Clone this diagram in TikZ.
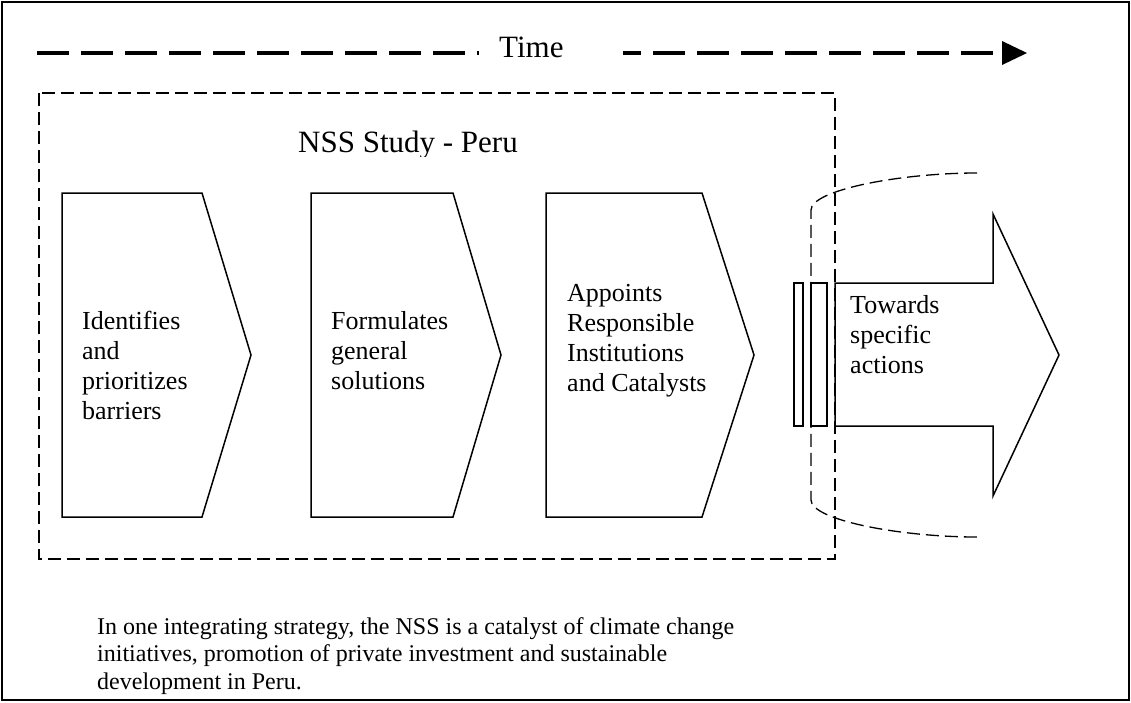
\documentclass[tikz,border=0pt]{standalone}
\usepackage{fontspec}
\setmainfont{Liberation Serif}
\usepackage{tikz}
\tikzset{
  boxline/.style={line width=1.3pt, dash pattern=on 13pt off 6pt},
  outline/.style={line width=1.5pt, line join=miter},
  steptext/.style={anchor=north west, align=left, inner sep=0pt, font=\fontsize{26}{30}\selectfont},
}
\begin{document}
\begin{tikzpicture}[x=1pt,y=-1pt]
\useasboundingbox (0,0) rectangle (1131,702);
\draw[line width=1.5pt] (2,2) rectangle (1129,700);
% time axis
\coordinate (tstart) at (37,53);
\coordinate (tend) at (993,53);
\draw[line width=4pt, dash pattern=on 32pt off 12pt] (tstart) -- (tend);
\fill (1002,41) -- (1027,53) -- (1002,65) -- cycle;
\node[fill=white, anchor=west, inner xsep=20pt, inner ysep=3pt, text width=104pt, align=left,
  text height=21pt, text depth=0pt, font=\fontsize{31}{37}\selectfont] (time) at (479,46.5) {Time};
% study frame
\draw[boxline] (39,93) rectangle (835,559);
\begin{scope}
\clip (39,93) rectangle (835,156);
\node[anchor=base, inner sep=0pt, font=\fontsize{31}{37}\selectfont] (study) at (408,152) {NSS Study - Peru};
\end{scope}
\draw[outline] (62,193) -- (202,193) -- (251,355) -- (202,517) -- (62,517) -- cycle;
\draw[outline] (311,193) -- (453,193) -- (501,355) -- (453,517) -- (311,517) -- cycle;
\draw[outline] (546,193) -- (702,193) -- (754,355) -- (702,517) -- (546,517) -- cycle;
\node[steptext] (identify) at (82,311) {Identifies\\and\\prioritizes\\barriers};
\node[steptext] (formulate) at (331,311) {Formulates\\general\\solutions};
\node[steptext] (appoint) at (567,284) {Appoints\\Responsible\\Institutions\\and Catalysts};
% towards actions
\draw[boxline] (977,173) .. controls (900,173) and (811,190) .. (811,210) -- (811,500)
  .. controls (811,520) and (900,537) .. (977,537);
\draw[outline] (794,283) rectangle (803,426);
\draw[outline] (811,283) rectangle (827,426);
\draw[outline] (835,283) -- (993,283) -- (993,214) -- (1059,355) -- (993,496) -- (993,426) -- (835,426) -- cycle;
\node[steptext] (towards) at (850,295) {Towards\\specific\\actions};
\node[anchor=north west, align=left, inner sep=0pt, font=\fontsize{24}{27.5}\selectfont] (summary) at (97,617)
  {In one integrating strategy, the NSS is a catalyst of climate change\\initiatives, promotion of private investment and sustainable\\development in Peru.};
\end{tikzpicture}
\end{document}
